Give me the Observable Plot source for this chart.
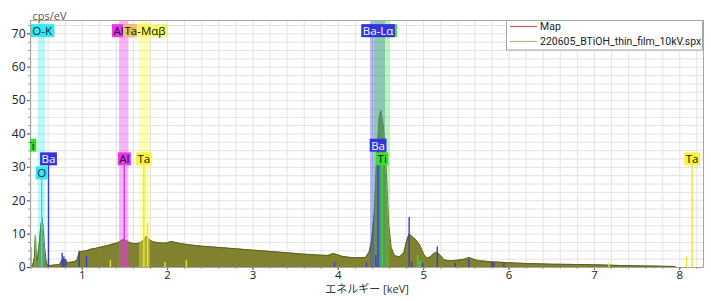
<!DOCTYPE html>
<html><head><meta charset="utf-8">
<script src="https://cdn.jsdelivr.net/npm/d3@7"></script>
<script src="https://cdn.jsdelivr.net/npm/@observablehq/plot@0.6"></script>
<style>
body{margin:0;background:#fff;}
#chart svg{display:block;}
</style></head><body><div id="chart"></div>
<script>
// ---- spectrum (keV, cps/eV) ----
const energy = [0.394,0.42,0.44,0.452,0.465,0.48,0.50,0.515,0.53,0.545,0.56,0.575,0.59,0.62,0.66,0.70,0.74,0.76,0.78,0.80,0.83,0.87,0.91,0.94,0.96,0.98,1.02,1.06,1.1,1.15,1.2,1.25,1.3,1.35,1.4,1.44,1.47,1.49,1.52,1.56,1.6,1.65,1.7,1.73,1.75,1.77,1.8,1.85,1.9,1.95,2.0,2.04,2.08,2.15,2.25,2.4,2.6,2.8,3.0,3.2,3.4,3.6,3.8,3.88,3.94,3.98,4.05,4.15,4.25,4.32,4.36,4.39,4.42,4.45,4.48,4.50,4.53,4.56,4.59,4.62,4.66,4.72,4.77,4.80,4.83,4.87,4.92,4.96,5.0,5.04,5.08,5.12,5.15,5.19,5.24,5.3,5.4,5.48,5.53,5.58,5.65,5.8,6.0,6.2,6.5,6.8,7.0,7.3,7.6,7.95,7.96];
const counts = [0.5,0.6,3,9.5,2,3.5,8,12.5,14.8,11,6,2.5,0.8,0.6,0.7,0.8,1.0,2.2,2.6,2.3,1.5,1.6,1.8,2.2,4.2,4.8,4.9,5.1,5.5,5.7,6.0,6.3,6.6,7.0,7.3,7.7,8.3,8.4,8.0,7.4,7.2,7.2,7.7,8.6,9.3,8.8,8.0,7.6,7.4,7.3,7.4,7.8,7.6,7.2,6.8,6.4,6.0,5.6,5.2,4.8,4.4,4.0,3.7,3.6,4.2,3.9,3.3,3.0,2.9,3.0,4.5,8,16,33,45,47,42,30,13,6,3.5,3.2,4.5,8,10,9.2,8,6.5,4,2.8,3.2,4.2,4.6,3.8,2.3,2.0,2.2,2.5,3.0,2.5,2.0,1.7,1.4,1.2,1.0,0.9,0.8,0.6,0.45,0.3,0];

// ---- element marker lines ----
const lineE  = [0.605,0.765,0.785,0.805,0.965,1.05,3.955,4.33,4.44,4.466,4.83,4.86,4.99,5.16,5.37,5.53,5.80,5.82,5.94,
                0.40,0.452,4.514,4.93,4.96,
                1.33,1.722,1.765,1.97,2.22,7.17,8.08,8.145,
                1.493,1.557,
                0.525];
const lineH  = [32.3,4.3,3.2,2.4,4.9,3.3,1.3,1.3,3.5,36.4,15,1.6,1.2,6.2,1.3,2.3,1.5,1.3,1.3,
                6,9.5,32.3,3.5,2.0,
                2.0,32.3,13.2,1.5,2.0,1.3,3.2,32.3,
                32.3,1.5,
                28.1];
const lineEl = ["Ba","Ba","Ba","Ba","Ba","Ba","Ba","Ba","Ba","Ba","Ba","Ba","Ba","Ba","Ba","Ba","Ba","Ba","Ba",
                "Ti","Ti","Ti","Ti","Ti",
                "Ta","Ta","Ta","Ta","Ta","Ta","Ta","Ta",
                "Al","Al",
                "O"];

// ---- map energy windows ----
const bandLo = [0.485,1.437,1.671,4.377,4.427];
const bandHi = [0.570,1.546,1.800,4.553,4.603];
const bandEl = ["O","Al","Ta","Ba","Ti"];

// ---- window labels (top) ----
const topText = ["O-K","Al-K","Ta-Mαβ","Ti-Kα","Ba-Lα"];
const topE    = [0.53,1.488,1.735,4.51,4.465];
const topEl   = ["O","Al","Ta","Ti","Ba"];

// ---- line labels ----
const lowText = ["Ti","Ba","O","Al","Ta","Ti","Ba","Ta"];
const lowE    = [0.39,0.605,0.525,1.493,1.722,4.514,4.466,8.145];
const lowV    = [36.4,32.3,28.1,32.3,32.3,32.3,36.4,32.3];
const lowEl   = ["Ti","Ba","O","Al","Ta","Ti","Ba","Ta"];

const xTicks = [1,2,3,4,5,6,7,8];
const yTicks = [0,10,20,30,40,50,60,70];
const legendNames = ["Map","220605_BTiOH_thin_film_10kV.spx"];

// ---- styles ----
const lineColor = {Ba:"#3a3ad8", Ti:"#3ad83a", Ta:"#e6e636", Al:"#d83ad8", O:"#36d8d8"};
const bandColor = {Ba:"rgba(70,70,235,0.38)", Ti:"rgba(60,225,60,0.35)", Ta:"rgba(255,255,50,0.35)", Al:"rgba(240,60,240,0.38)", O:"rgba(20,230,230,0.28)"};
const boxColor  = {Ba:"#3434dc", Ti:"#36e036", Ta:"#f6f63c", Al:"#e636e6", O:"#38e8e8"};
const textColor = {Ba:"#ffffff", Ti:"#111111", Ta:"#111111", Al:"#111111", O:"#102a60"};
const legendColor = ["#c85a5a","#a8b878"];

const spectrum = energy.map((e,i)=>({e, c: counts[i]}));
const lines = lineE.map((e,i)=>({e, h: lineH[i], el: lineEl[i]}));
const bands = bandLo.map((lo,i)=>({lo, hi: bandHi[i], el: bandEl[i]}));
const topLabels = topText.map((t,i)=>({t, e: topE[i], el: topEl[i]}));
const lowLabels = lowText.map((t,i)=>({t, e: lowE[i], v: lowV[i], el: lowEl[i]}));

const xDomain = [0.394, 8.278];
const xGrid = d3.range(2, 42).map(k => k*0.2);
const yGrid = d3.range(1, 30).map(k => k*2.5);

const font = "'Open Sans','Noto Sans CJK JP',sans-serif";

const plot = Plot.plot({
  width: 711, height: 301,
  marginLeft: 30, marginRight: 8, marginTop: 20, marginBottom: 34,
  x: {domain: xDomain},
  y: {domain: [0, 74]},
  color: {type: "identity"},
  style: {fontFamily: font, fontSize: "12px", color: "#333", background: "#fff"},
  marks: [
    Plot.gridX(xGrid, {stroke: "#e3e3e3", strokeOpacity: 1}),
    Plot.gridY(yGrid, {stroke: "#e3e3e3", strokeOpacity: 1}),
    Plot.areaY(spectrum, {x: "e", y: "c", fill: "#80822f", clip: true}),
    Plot.lineY(spectrum, {x: "e", y: "c", stroke: "#5e611d", strokeWidth: 1, clip: true}),
    Plot.rect(bands, {x1: "lo", x2: "hi", fill: d => bandColor[d.el]}),
    Plot.ruleX(lines, {x: "e", y1: 0, y2: "h", stroke: d => lineColor[d.el], strokeWidth: 1.4, clip: true}),
    Plot.frame({stroke: "#a6a6a6"}),
    Plot.axisX(xTicks, {tickSize: 3, tickPadding: 0, fontSize: 11.5, fill: "#222"}),
    Plot.axisX(xGrid, {tickSize: 2, tickFormat: () => "", stroke: "#999"}),
    Plot.axisY(yTicks, {tickSize: 3, tickPadding: 2, fontSize: 12, fill: "#222", label: null}),
    Plot.axisY(yGrid, {tickSize: 2, tickFormat: () => "", stroke: "#999", label: null}),
    Plot.text(["cps/eV"], {frameAnchor: "top-left", dx: 2, dy: -8, textAnchor: "start", fill: "#555", fontSize: 11}),
    Plot.text(["エネルギー [keV]"], {frameAnchor: "bottom", dy: 25.5, fill: "#333", fontSize: 11}),
    Plot.text(topLabels, {x: "e", frameAnchor: "top", dy: 6.5, text: "t", fill: d => textColor[d.el], fontSize: 11.5, ariaDescription: "toplabels"}),
    Plot.text(lowLabels, {x: "e", y: "v", text: "t", fill: d => textColor[d.el], fontSize: 11.5, clip: true, ariaDescription: "lowlabels"})
  ]
});

document.getElementById("chart").appendChild(plot);

// label boxes behind each label text, sized from the rendered text
function addBoxes(desc, list, opacityMap) {
  const g = plot.querySelector(`g[aria-description="${desc}"]`);
  if (!g) return;
  const texts = Array.from(g.querySelectorAll("text"));
  texts.forEach((t, i) => {
    const bb = t.getBBox();
    const d = list[i];
    const r = document.createElementNS("http://www.w3.org/2000/svg", "rect");
    const cy = bb.y + bb.height / 2;
    r.setAttribute("x", bb.x - 1.5);
    r.setAttribute("y", cy - 6.5);
    r.setAttribute("width", bb.width + 3);
    r.setAttribute("height", 13);
    r.setAttribute("fill", boxColor[d.el]);
    if (opacityMap && opacityMap[d.el] != null) r.setAttribute("fill-opacity", opacityMap[d.el]);
    if (t.getAttribute("transform")) r.setAttribute("transform", t.getAttribute("transform"));
    t.parentNode.insertBefore(r, t);
  });
}
addBoxes("toplabels", topLabels, {Ta: 0.72});
addBoxes("lowlabels", lowLabels, null);

// legend box in the top-right corner of the frame
const svg = d3.select(plot);
const fx2 = 711 - 8, fy1 = 20;
const lg = svg.append("g").attr("font-family", "Roboto,'Open Sans',sans-serif").attr("font-size", 10.5).attr("text-anchor", "start");
lg.append("rect").attr("x", fx2 - 196.5).attr("y", fy1 + 0.5).attr("width", 196).attr("height", 29.5)
  .attr("fill", "#fff").attr("stroke", "#a6a6a6");
legendNames.forEach((name, i) => {
  const y = fy1 + 6.5 + i * 15;
  lg.append("line").attr("x1", fx2 - 193).attr("x2", fx2 - 166).attr("y1", y).attr("y2", y)
    .attr("stroke", legendColor[i]).attr("stroke-width", 1.2);
  lg.append("text").attr("x", fx2 - 163).attr("y", y).attr("dy", "0.35em")
    .attr("text-anchor", "start").attr("fill", "#222").text(name);
});
</script></body></html>
